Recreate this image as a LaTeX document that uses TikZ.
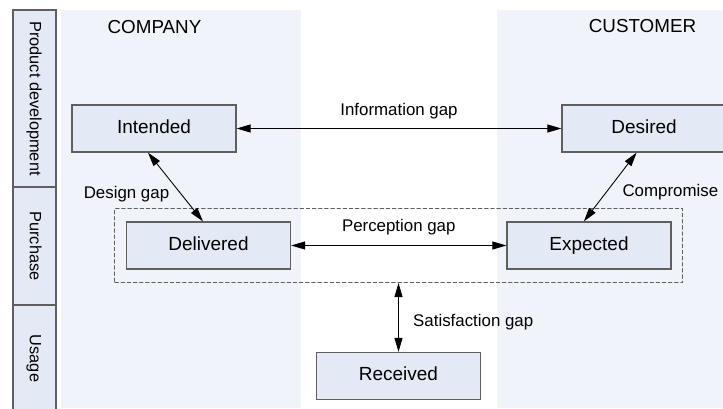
\documentclass[tikz,border=0pt]{standalone}
\usepackage{fontspec}
\setmainfont{Liberation Sans}
\usepackage{tikz}
\usetikzlibrary{arrows.meta,fit}
\definecolor{lanebg}{RGB}{240,243,249}
\definecolor{boxfill}{RGB}{228,234,245}
\definecolor{boxline}{RGB}{95,95,95}

\begin{document}
\begin{tikzpicture}[>={Triangle[length=2.8mm,width=1.6mm]},line cap=round,
  stage/.style={draw=boxline,line width=0.7pt,fill=boxfill,minimum width=3.28cm,minimum height=0.94cm,inner sep=0pt,text height=0.72em,text depth=0.2em,font=\fontsize{10.8}{13}\selectfont},
  lane/.style={draw=boxline,line width=0.7pt,fill=boxfill,rotate=-90,minimum height=0.86cm,inner sep=0pt,text height=0.72em,text depth=0.2em,font=\fontsize{9.3}{11}\selectfont},
  gap/.style={font=\fontsize{9.6}{11}\selectfont},
  side/.style={font=\fontsize{10.7}{13}\selectfont}]
\useasboundingbox (0,0) rectangle (14.46,8.16);
\fill[lanebg] (1.22,0) rectangle (6.02,7.96);
\fill[lanebg] (9.94,0) rectangle (14.46,7.96);
\node[lane,minimum width=3.54cm] (devlane) at (0.69,6.19) {Product development};
\node[lane,minimum width=2.36cm] (buylane) at (0.69,3.24) {Purchase};
\node[lane,minimum width=2.14cm] (uselane) at (0.69,0.99) {Usage};
\node[side] (company) at (3.09,7.62) {COMPANY};
\node[side] (customer) at (12.85,7.63) {CUSTOMER};
\node[stage] (intended) at (3.08,5.59) {Intended};
\node[stage] (desired) at (12.88,5.59) {Desired};
\node[stage] (delivered) at (4.17,3.25) {Delivered};
\node[stage] (expected) at (11.78,3.25) {Expected};
\node[stage] (received) at (7.97,0.64) {Received};
\node[draw=boxline,line width=0.5pt,dash pattern=on 2pt off 1.5pt,inner xsep=0.22cm,inner ysep=0.26cm,fit=(delivered)(expected)] (zone) {};
\draw[<->,line width=0.5pt] (intended.east) -- node[gap,above=1.6pt]{Information gap} (desired.west);
\draw[<->,line width=0.5pt] (delivered.east) -- node[gap,above=2.5pt]{Perception gap} (expected.west);
\draw[<->,line width=0.5pt] (intended.-104) -- node[gap,left,yshift=-4pt]{Design gap} (delivered.103);
\draw[<->,line width=0.5pt] (desired.-107) -- node[gap,right,xshift=3.4pt,yshift=-3.2pt]{Compromise} (expected.102);
\draw[<->,line width=0.5pt] (zone.south -| received.north) -- node[gap,right,xshift=4.8pt,yshift=-2.9pt]{Satisfaction gap} (received.north);
\end{tikzpicture}
\end{document}
